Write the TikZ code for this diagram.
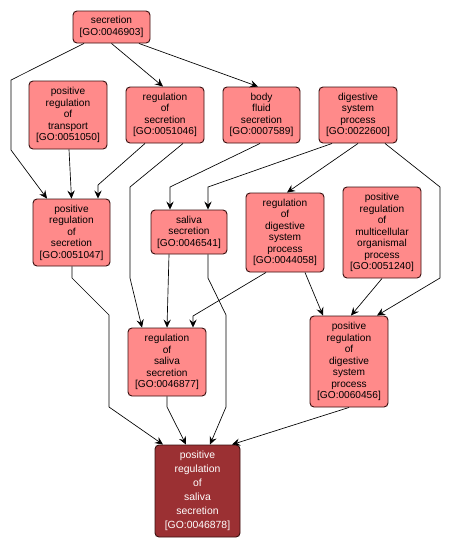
\documentclass[tikz,border=0pt]{standalone}
\usepackage{fontspec}
\setmainfont{Liberation Sans}
\usetikzlibrary{arrows.meta}
\definecolor{lightfill}{HTML}{FF8A8A}
\definecolor{darkfill}{HTML}{9B3033}
\definecolor{boxline}{HTML}{3A1010}
\begin{document}
\begin{tikzpicture}[x=0.75pt,y=-0.75pt,
  gobox/.style 2 args={draw=boxline, line width=0.7pt, fill=lightfill, rounded corners=3pt,
    align=center, inner sep=0pt, font=\fontsize{7.6}{8.6}\selectfont,
    minimum width={#1*0.75pt}, minimum height={#2*0.75pt}},
  godark/.style 2 args={draw=boxline, line width=0.7pt, fill=darkfill, text=white, rounded corners=3pt,
    align=center, inner sep=0pt, font=\fontsize{7.8}{10.5}\selectfont,
    minimum width={#1*0.75pt}, minimum height={#2*0.75pt}},
  edge/.style={draw=black, line width=0.5pt, -{Stealth[length=6pt,width=5.5pt,inset=2.2pt]}}]
\useasboundingbox (0,0) rectangle (451,551);
\fill[white] (0,0) rectangle (451,551);

\node[gobox={77}{32}] (sec) at (111.5,27) {secretion\\{[GO:0046903]}};
\node[gobox={78}{68}] (trans) at (68,115) {positive\\regulation\\of\\transport\\{[GO:0051050]}};
\node[gobox={78}{56}] (regsec) at (165,115) {regulation\\of\\secretion\\{[GO:0051046]}};
\node[gobox={77}{56}] (body) at (261.5,115) {body\\fluid\\secretion\\{[GO:0007589]}};
\node[gobox={78}{56}] (dig) at (358,115) {digestive\\system\\process\\{[GO:0022600]}};
\node[gobox={77}{67}] (posregsec) at (71.5,232.5) {positive\\regulation\\of\\secretion\\{[GO:0051047]}};
\node[gobox={76}{44}] (sal) at (189,232) {saliva\\secretion\\{[GO:0046541]}};
\node[gobox={78}{79}] (regdig) at (285,232.5) {regulation\\of\\digestive\\system\\process\\{[GO:0044058]}};
\node[gobox={78}{91}] (multi) at (382,232.5) {positive\\regulation\\of\\multicellular\\organismal\\process\\{[GO:0051240]}};
\node[gobox={78}{68}] (regsal) at (167,362) {regulation\\of\\saliva\\secretion\\{[GO:0046877]}};
\node[gobox={78}{91}] (posregdig) at (349,361.5) {positive\\regulation\\of\\digestive\\system\\process\\{[GO:0060456]}};
\node[godark={85}{92}] (posregsal) at (197.5,491) {positive\\regulation\\of\\saliva\\secretion\\{[GO:0046878]}};

\draw[edge] ([shift={(-27.5,0)}]sec.south) -- (11,80) -- (11,150) -- ([shift={(-24.5,0)}]posregsec.north);
\draw[edge] (sec.south) -- ([shift={(-2,0)}]regsec.north);
\draw[edge] ([shift={(27.5,0)}]sec.south) -- ([shift={(-3.5,0)}]body.north);
\draw[edge] ([shift={(1,0)}]trans.south) -- (posregsec.north);
\draw[edge] ([shift={(-20,0)}]regsec.south) -- (98,185) -- ([shift={(26.5,0)}]posregsec.north);
\draw[edge] ([shift={(18,0)}]regsec.south) -- (130,187) -- (130,278) -- ([shift={(-25,0)}]regsal.north);
\draw[edge] ([shift={(-1.5,0)}]body.south) -- (170,187) -- ([shift={(-19,0)}]sal.north);
\draw[edge] ([shift={(-26,0)}]dig.south) -- (208,187) -- ([shift={(19,0)}]sal.north);
\draw[edge] (dig.south) -- ([shift={(2,0)}]regdig.north);
\draw[edge] ([shift={(27,0)}]dig.south) -- (440,187) -- (440,278) -- ([shift={(28,0)}]posregdig.north);
\draw[edge] ([shift={(0.5,0)}]posregsec.south) -- (72,278) -- (109,315) -- (109,407) -- ([shift={(-34.5,0)}]posregsal.north);
\draw[edge] ([shift={(-20,0)}]sal.south) -- (regsal.north);
\draw[edge] ([shift={(19,0)}]sal.south) -- (208,278) -- (226,315) -- (226,407) -- ([shift={(12.5,0)}]posregsal.north);
\draw[edge] ([shift={(-19,0)}]regdig.south) -- (193,316) -- ([shift={(26,0)}]regsal.north);
\draw[edge] ([shift={(20,0)}]regdig.south) -- ([shift={(-26,0)}]posregdig.north);
\draw[edge] (multi.south) -- ([shift={(2,0)}]posregdig.north);
\draw[edge] (regsal.south) -- (167,407) -- ([shift={(-11.5,0)}]posregsal.north);
\draw[edge] (posregdig.south) -- ([shift={(34.5,0)}]posregsal.north);
\end{tikzpicture}
\end{document}
